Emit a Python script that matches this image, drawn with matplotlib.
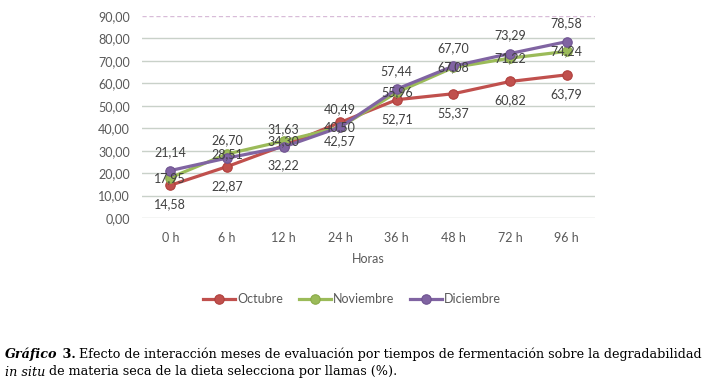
import matplotlib
matplotlib.use('Agg')
import matplotlib.pyplot as plt

categories = ['0 h', '6 h', '12 h', '24 h', '36 h', '48 h', '72 h', '96 h']
series_names = ['Octubre', 'Noviembre', 'Diciembre']
octubre = [14.58, 22.87, 32.22, 42.57, 52.71, 55.37, 60.82, 63.79]
noviembre = [17.95, 28.51, 34.30, 40.50, 55.96, 67.08, 71.22, 74.24]
diciembre = [21.14, 26.70, 31.63, 40.49, 57.44, 67.70, 73.29, 78.58]
yticks = [0, 10, 20, 30, 40, 50, 60, 70, 80, 90]
xlabel = 'Horas'

W, H = 713, 390
plt.rcParams['font.family'] = ['Lato', 'DejaVu Sans']
fig = plt.figure(figsize=(W / 100, H / 100), dpi=100)
ax = fig.add_axes([142 / W, (H - 218) / H, (595 - 142) / W, (218 - 16) / H])

colors = ['#C0504D', '#9BBB59', '#8064A2']
edges = ['#B03F3C', '#8AAA48', '#6F5391']
data = [octubre, noviembre, diciembre]
offsets = [-19, 0, 18]
x = list(range(len(categories)))

for vals, name, c, ec, off in zip(data, series_names, colors, edges, offsets):
    ax.plot(x, vals, color=c, lw=2.3, marker='o', ms=6.8, mfc=c, mec=ec,
            mew=0.8, label=name, zorder=3)
    for xi, v in zip(x, vals):
        ax.annotate(f'{v:.2f}'.replace('.', ','), (xi, v), xytext=(0, off),
                    textcoords='offset pixels', ha='center', va='center',
                    fontsize=9, color='#404040', zorder=4)

ax.set_xlim(-0.5, len(categories) - 0.5)
ax.set_ylim(0, 90)
ax.set_yticks(yticks)
ax.set_yticklabels([f'{v:.2f}'.replace('.', ',') for v in yticks])
ax.set_xticks(x)
ax.set_xticklabels(categories)
ax.tick_params(axis='both', length=0, labelsize=9, labelcolor='#595959')
ax.tick_params(axis='y', pad=8.8)
ax.tick_params(axis='x', pad=10)
for s in ax.spines.values():
    s.set_visible(False)
for v in yticks[:-1]:
    ax.axhline(v, color='#C9D1C9', lw=1.0, zorder=1)
ax.axhline(yticks[-1], color='#D8BCD8', lw=1.0, ls=(0, (3, 2)), zorder=1)
ax.set_xlabel(xlabel, fontsize=9, color='#595959', labelpad=6.5)

fig.legend(loc='center', bbox_to_anchor=(352 / W, 1 - 299 / H), ncol=3,
           frameon=False, fontsize=9, handlelength=2.6, handletextpad=0.15,
           columnspacing=1.25, labelcolor='#595959')

# Caption
renderer = fig.canvas.get_renderer()
serif = 'DejaVu Serif'

def width(s, fs, **kw):
    t1 = fig.text(0, 0, '|' + s + '|', fontsize=fs, family=serif, **kw)
    t2 = fig.text(0, 0, '||', fontsize=fs, family=serif, **kw)
    w = t1.get_window_extent(renderer).width - t2.get_window_extent(renderer).width
    t1.remove(); t2.remove()
    return w

line1 = [('Gráfico', dict(weight='bold', style='italic')),
         (' 3.', dict(weight='bold')),
         (' Efecto de interacción meses de evaluación por tiempos de fermentación sobre la degradabilidad', {})]
line2 = [('in situ', dict(style='italic')),
         (' de materia seca de la dieta selecciona por llamas (%).', {})]

base = 10
tot = sum(width(s, base, **kw) for s, kw in line1)
fs = base * 703 / tot

def draw(pieces, ypix):
    cur = 5
    for s, kw in pieces:
        fig.text(cur / W, 1 - ypix / H, s, fontsize=fs, family=serif,
                 va='center', ha='left', color='#000000', **kw)
        cur += width(s, fs, **kw)

draw(line1, 354)
draw(line2, 372)

fig.savefig('out.png', dpi=100)
